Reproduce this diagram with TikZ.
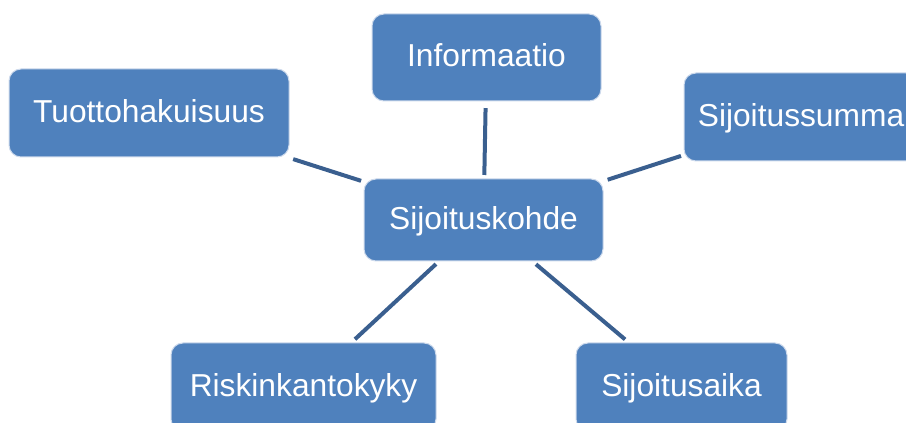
\documentclass[tikz,border=0pt]{standalone}
\usepackage{fontspec}
\setmainfont{Liberation Sans}
\usetikzlibrary{calc}
\definecolor{boxfill}{RGB}{79,129,189}
\definecolor{boxline}{RGB}{205,218,236}
\definecolor{conn}{RGB}{58,95,143}
\begin{document}
\begin{tikzpicture}[x=0.75pt,y=-0.75pt,
  box/.style={rectangle, rounded corners=9pt, fill=boxfill, draw=boxline, line width=0.75pt,
    text=white, inner sep=0pt, font=\fontsize{23.8}{28}\selectfont,
    text height=17pt, text depth=3pt, align=center},
  link/.style={draw=conn, line width=3pt}]
\useasboundingbox (0,0) rectangle (906,423);
\clip (0,0) rectangle (906,423);
\node[box, minimum width=179.25pt, minimum height=61.5pt] (c) at (483.5,220) {Sijoituskohde};
\node[box, minimum width=210pt, minimum height=66pt] (tuo) at (149,113) {Tuottohakuisuus};
\node[box, minimum width=171.75pt, minimum height=65.25pt] (inf) at (486.5,57.5) {Informaatio};
\node[box, minimum width=175.5pt, minimum height=66pt] (sum) at (801,117) {Sijoitussumma};
\node[box, minimum width=198.75pt, minimum height=66pt] (ris) at (303.5,387) {Riskinkantokyky};
\node[box, minimum width=158.25pt, minimum height=66pt] (aik) at (681.5,387) {Sijoitusaika};
\draw[link] ($(c.center)!0.366!(tuo.center)$) -- ($(c.center)!0.569!(tuo.center)$);
\draw[link] ($(c.center)!0.277!(inf.center)$) -- ($(c.center)!0.689!(inf.center)$);
\draw[link] ($(c.center)!0.391!(sum.center)$) -- ($(c.center)!0.622!(sum.center)$);
\draw[link] ($(c.center)!0.264!(ris.center)$) -- ($(c.center)!0.714!(ris.center)$);
\draw[link] ($(c.center)!0.265!(aik.center)$) -- ($(c.center)!0.715!(aik.center)$);
\end{tikzpicture}
\end{document}
